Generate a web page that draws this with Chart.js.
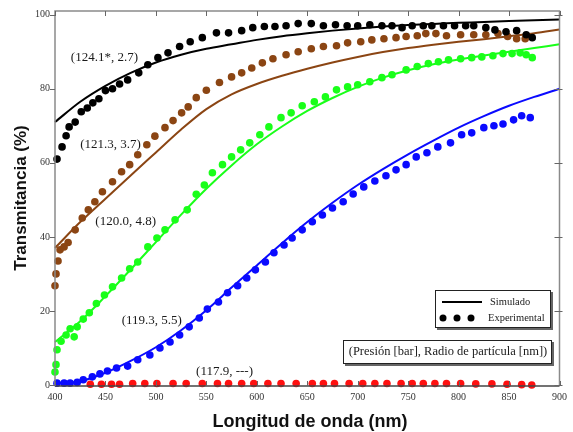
<!DOCTYPE html>
<html>
<head>
<meta charset="utf-8">
<script src="https://cdn.jsdelivr.net/npm/chart.js@4.4.1/dist/chart.umd.min.js"></script>
<style>
  html, body { margin: 0; padding: 0; background: #fff; }
  canvas { display: block; }
</style>
</head>
<body>
<canvas id="c" width="573" height="432"></canvas>
<script>
// Wavelength grid of the simulated curves (nm)
const simWl = [400, 425, 450, 475, 500, 525, 550, 575, 600, 625, 650, 675, 700, 725, 750, 775, 800, 825, 850, 875, 900];

// Simulated transmittance (%)
const simBlack = [71, 76.5, 80.8, 84.3, 87.1, 89.2, 90.8, 92.0, 93.2, 94.2, 95.0, 95.7, 96.3, 96.8, 97.2, 97.5, 97.8, 98.0, 98.3, 98.5, 98.7];
const simBrown = [37, 44, 50.3, 56.6, 62.8, 69, 74.5, 78.5, 81.3, 83.5, 85.4, 87.1, 88.6, 89.9, 91, 91.9, 92.7, 93.4, 94.2, 95, 96];
const simGreen = [11.6, 17.2, 24, 31.2, 38.6, 46, 53, 59.3, 65, 69.8, 74, 77.5, 80.5, 83, 85, 86.6, 87.9, 89, 90, 91, 92];
const simBlue = [0.5, 1, 3.3, 6.5, 10.2, 14.8, 20.2, 26.3, 32.3, 38.3, 44, 49.2, 54, 58.3, 62.3, 66, 69.5, 72.6, 75.4, 77.8, 80];

// Measured transmittance: wavelength (nm) and value (%)
const expBlackWl = [402, 407, 411, 414, 420, 426, 432, 437.5, 443.5, 450, 457, 464, 472, 483, 492, 502, 512, 523.5, 534, 546, 560, 572, 585, 596, 607.5, 618, 629, 641, 654, 666, 678, 689.5, 700, 712, 724, 734, 744, 754, 765, 773.5, 785, 796, 807, 815, 827, 836, 847, 857.5, 867, 873];
const expBlackT = [61, 64.3, 67.3, 69.7, 71, 73.8, 74.8, 76.2, 77.3, 79.5, 80, 81.3, 82.4, 84.3, 86.5, 88.4, 89.7, 91.4, 92.7, 93.8, 95.1, 95.1, 95.7, 96.5, 96.8, 96.8, 97, 97.6, 97.6, 97, 97.3, 97, 97, 97.3, 97, 97, 96.5, 97, 97, 97, 97, 97, 97, 97, 96.5, 95.9, 95.4, 95.7, 94.6, 93.8];

const expBrownWl = [400, 401, 403, 405, 409, 413, 420, 427, 433, 439.5, 447, 457, 466, 474, 482, 491, 499, 509, 517, 525.5, 532, 540, 550, 563, 575, 585, 595, 605.5, 616, 629, 641, 654, 666, 679, 690, 703, 714, 726, 738, 748, 759, 767.5, 777.5, 788, 802, 815, 827, 839, 848.6, 857.5, 866];
const expBrownT = [26.8, 30, 33.5, 36.5, 37.3, 38.5, 41.9, 45.1, 47.3, 49.5, 52.2, 54.9, 57.6, 59.5, 62.2, 64.9, 67.2, 69.5, 71.4, 73.5, 75.1, 77.6, 79.6, 81.7, 83.2, 84.3, 85.6, 87, 88.1, 89.2, 90, 90.8, 91.4, 91.6, 92.4, 92.7, 93.2, 93.5, 93.8, 94.1, 94.3, 94.9, 94.9, 94.3, 94.6, 94.6, 94.6, 94.9, 94.1, 93.5, 93.5];

const expGreenWl = [400, 401, 402, 406, 411, 415, 419, 422, 428, 434, 441, 449, 457, 466, 474, 482, 492, 501, 509, 519, 531, 540, 548, 556, 566, 575, 584, 593, 603, 612, 624, 634, 645, 657, 668, 679, 690, 700, 712, 724, 734, 748, 759, 770, 780, 790, 802, 813, 823, 834, 844, 853, 861, 867, 873];
const expGreenT = [3.5, 5.5, 9.5, 11.8, 13.5, 15.2, 13, 15.7, 17.8, 19.5, 22, 24.3, 26.5, 28.9, 31.4, 33.2, 37.3, 39.7, 41.9, 44.6, 47.3, 51.5, 54, 57.3, 59.5, 61.6, 63.5, 65.4, 67.6, 69.7, 72.2, 73.5, 75.4, 76.5, 77.8, 79.7, 80.5, 81.1, 81.9, 83, 83.8, 85.1, 86, 86.8, 87.3, 87.8, 88.1, 88.4, 88.6, 88.9, 89.5, 89.5, 89.7, 89.2, 88.4];

const expBlueWl = [402, 409, 415, 422, 428, 437, 444.5, 452, 461, 472, 482, 494, 504, 514, 523.5, 533, 543, 551, 562, 571, 581, 590, 598.6, 608.5, 617, 627, 635, 645, 655, 665, 675, 685.6, 695.5, 706, 717, 728, 738, 748, 758, 768.6, 779.4, 792, 803, 813, 825, 835, 844, 854.5, 862.5, 871];
const expBlueT = [0.5, 0.5, 0.5, 0.7, 1.4, 2.2, 3, 3.8, 4.6, 5.1, 6.8, 8.1, 10, 11.6, 13.5, 15.7, 18.1, 20.5, 22.4, 24.9, 26.8, 28.9, 31.1, 33.2, 35.7, 37.8, 39.7, 41.9, 44.1, 45.9, 47.8, 49.5, 51.6, 53.5, 55.1, 56.5, 58.1, 59.5, 61.6, 62.7, 64.3, 65.4, 67.6, 68.1, 69.5, 70, 70.5, 71.6, 72.7, 72.2];

const expRedWl = [435, 446, 456, 464, 477, 489, 501, 517, 530, 546, 561, 572, 585, 597, 611, 624, 639, 655, 666, 677, 691.5, 705, 717, 729, 743, 754, 765, 776.5, 788, 802, 817, 833, 848, 862.5, 872.5];
const expRedT = [0.2, 0.2, 0.2, 0.2, 0.4, 0.4, 0.4, 0.4, 0.4, 0.4, 0.4, 0.4, 0.4, 0.4, 0.4, 0.4, 0.4, 0.4, 0.4, 0.4, 0.4, 0.4, 0.4, 0.4, 0.4, 0.4, 0.4, 0.4, 0.4, 0.4, 0.3, 0.3, 0.2, 0.1, 0.0];

// Axis ticks
const xTicks = [400, 450, 500, 550, 600, 650, 700, 750, 800, 850, 900];
const yTicks = [0, 20, 40, 60, 80, 100];

// Curve labels: (pressure [bar], particle radius [nm]) and where they sit (wavelength, %)
const curveLabels = ['(124.1*, 2.7)', '(121.3, 3.7)', '(120.0, 4.8)', '(119.3, 5.5)', '(117.9, ---)'];
const curveLabelAt = [[449, 88.4], [455, 64.9], [470, 44], [496, 17.3], [568, 3.6]];

const COLORS = {
  black: '#000000',
  brown: '#8b4513',
  green: '#19ff19',
  blue: '#0a0aff',
  red: '#ff1010'
};

const serif = '"Liberation Serif", "Times New Roman", serif';
const sans = '"Liberation Sans", Arial, sans-serif';

function pairs(xs, ys) { return xs.map((x, i) => ({ x: x, y: ys[i] })); }

function simSet(values, color) {
  return {
    type: 'line', data: pairs(simWl, values), borderColor: color, borderWidth: 2,
    pointRadius: 0, showLine: true, fill: false, cubicInterpolationMode: 'monotone', order: 2, clip: false
  };
}
function expSet(xs, ys, color) {
  return {
    type: 'scatter', data: pairs(xs, ys), backgroundColor: color, borderColor: color,
    borderWidth: 0, pointRadius: 3.8, pointHoverRadius: 3.8, showLine: false, order: 1, clip: false
  };
}

const frame = {
  id: 'frame',
  beforeDraw(chart) {
    const ctx = chart.ctx;
    ctx.save();
    ctx.fillStyle = '#fff';
    ctx.fillRect(0, 0, chart.width, chart.height);
    ctx.restore();
  },
  afterDatasetsDraw(chart) {
    const ctx = chart.ctx;
    const a = chart.chartArea;
    const xs = chart.scales.x, ys = chart.scales.y;
    ctx.save();
    // Frame
    ctx.lineWidth = 1.5;
    ctx.strokeStyle = '#8a8a8a';
    ctx.beginPath();
    ctx.moveTo(a.left, a.bottom); ctx.lineTo(a.left, a.top); ctx.lineTo(a.right, a.top); ctx.lineTo(a.right, a.bottom);
    ctx.stroke();
    ctx.strokeStyle = '#444';
    ctx.beginPath();
    ctx.moveTo(a.left, a.bottom + 1); ctx.lineTo(a.right, a.bottom + 1);
    ctx.stroke();
    // Tick marks
    ctx.lineWidth = 1;
    ctx.strokeStyle = '#666';
    ctx.beginPath();
    xTicks.forEach(v => {
      const px = Math.round(xs.getPixelForValue(v)) + 0.5;
      ctx.moveTo(px, a.bottom + 1); ctx.lineTo(px, a.bottom - 4);
      ctx.moveTo(px, a.top); ctx.lineTo(px, a.top + 5);
    });
    yTicks.forEach(v => {
      const py = Math.round(ys.getPixelForValue(v)) + 0.5;
      ctx.moveTo(a.left - 5, py); ctx.lineTo(a.left, py);
      ctx.moveTo(a.right - 5, py); ctx.lineTo(a.right + 3, py);
    });
    ctx.stroke();

    // Curve labels
    ctx.fillStyle = '#1a1a1a';
    ctx.font = '13px ' + serif;
    ctx.textAlign = 'center';
    ctx.textBaseline = 'middle';
    curveLabels.forEach((t, i) => {
      ctx.fillText(t, xs.getPixelForValue(curveLabelAt[i][0]), ys.getPixelForValue(curveLabelAt[i][1]));
    });

    // Legend box
    function shadowBox(x, y, w, h) {
      ctx.fillStyle = '#666';
      ctx.fillRect(x + 2, y + 2, w, h);
      ctx.fillStyle = '#fff';
      ctx.fillRect(x, y, w, h);
      ctx.strokeStyle = '#222';
      ctx.lineWidth = 1;
      ctx.strokeRect(x + 0.5, y + 0.5, w - 1, h - 1);
    }
    shadowBox(435, 290, 116, 38);
    ctx.strokeStyle = '#000';
    ctx.lineWidth = 2;
    ctx.beginPath(); ctx.moveTo(442, 302); ctx.lineTo(482, 302); ctx.stroke();
    ctx.fillStyle = '#000';
    [443, 457, 471].forEach(x => { ctx.beginPath(); ctx.arc(x, 318, 3.5, 0, Math.PI * 2); ctx.fill(); });
    ctx.fillStyle = '#1a1a1a';
    ctx.font = '10.5px ' + serif;
    ctx.textAlign = 'left';
    ctx.fillText('Simulado', 490, 302);
    ctx.fillText('Experimental', 488, 318);

    // Parameter note box
    shadowBox(343, 340, 209, 24);
    ctx.fillStyle = '#1a1a1a';
    ctx.font = '12.5px ' + serif;
    ctx.textAlign = 'center';
    ctx.fillText('(Presión [bar], Radio de partícula [nm])', 448, 352);

    // Axis titles
    ctx.fillStyle = '#111';
    ctx.font = 'bold 18px ' + sans;
    ctx.textAlign = 'center';
    ctx.fillText('Longitud de onda (nm)', 310, 422);
    ctx.save();
    ctx.translate(21, 198);
    ctx.rotate(-Math.PI / 2);
    ctx.font = 'bold 17px ' + sans;
    ctx.fillText('Transmitancia (%)', 0, 0);
    ctx.restore();
    ctx.restore();
  }
};

new Chart(document.getElementById('c'), {
  type: 'scatter',
  data: {
    datasets: [
      simSet(simBlack, COLORS.black),
      simSet(simBrown, COLORS.brown),
      simSet(simGreen, COLORS.green),
      simSet(simBlue, COLORS.blue),
      expSet(expBlackWl, expBlackT, COLORS.black),
      expSet(expBrownWl, expBrownT, COLORS.brown),
      expSet(expGreenWl, expGreenT, COLORS.green),
      expSet(expBlueWl, expBlueT, COLORS.blue),
      expSet(expRedWl, expRedT, COLORS.red)
    ]
  },
  options: {
    responsive: false,
    animation: false,
    devicePixelRatio: 1,
    layout: { padding: { left: 0, right: 12, top: 11, bottom: 0 } },
    plugins: { legend: { display: false }, tooltip: { enabled: false } },
    events: [],
    scales: {
      x: {
        type: 'linear', min: 400, max: 900,
        afterFit(s) { s.height = 47; },
        afterBuildTicks(s) { s.ticks = xTicks.map(v => ({ value: v })); },
        grid: { display: false, drawTicks: false },
        border: { display: false },
        ticks: { padding: 6, color: '#333', font: { family: serif, size: 10 }, maxRotation: 0 }
      },
      y: {
        type: 'linear', min: 0, max: 101,
        afterFit(s) { s.width = 55; },
        afterBuildTicks(s) { s.ticks = yTicks.map(v => ({ value: v })); },
        grid: { display: false, drawTicks: false },
        border: { display: false },
        ticks: { padding: 5, color: '#333', font: { family: serif, size: 10 } }
      }
    }
  },
  plugins: [frame]
});
</script>
</body>
</html>
